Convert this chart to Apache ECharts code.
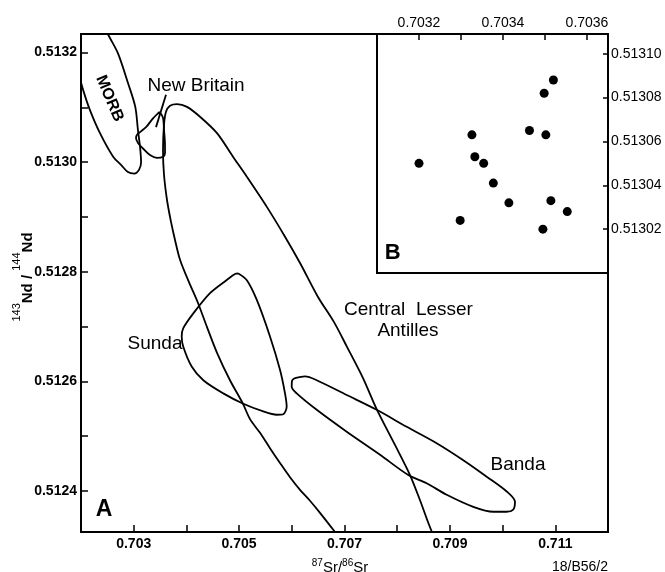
<!DOCTYPE html>
<html><head><meta charset="utf-8">
<script src="https://cdn.jsdelivr.net/npm/echarts@6/dist/echarts.min.js"></script>
<style>html,body{margin:0;padding:0;background:#fff}#c{width:665px;height:572px}</style>
</head><body><div id="c"></div>
<script>
// ---- Data (87Sr/86Sr, 143Nd/144Nd) ----
const morbOutline = [[0.7024,0.51326],[0.70251,0.513234],[0.7027,0.513199],[0.70289,0.513145],[0.70303,0.513101],[0.70308,0.513059],[0.70312,0.513028],[0.70314,0.513],[0.7031,0.512986],[0.70301,0.512979],[0.70289,0.512982],[0.70276,0.512995],[0.70261,0.51301],[0.70236,0.513053],[0.70217,0.513095],[0.70204,0.513132],[0.70194,0.513168],[0.70186,0.5132]];
const newBritainOutline = [[0.70349,0.513092],[0.703556,0.513081],[0.703575,0.513059],[0.703594,0.513031],[0.703594,0.513017],[0.703556,0.51301],[0.703442,0.513008],[0.703309,0.513013],[0.703176,0.513025],[0.703082,0.513035],[0.703044,0.513044],[0.703063,0.51305],[0.70312,0.513055],[0.703243,0.513065],[0.703366,0.51308],[0.70349,0.513092]];
const newBritainLeader = [[0.703613,0.513123],[0.703423,0.513064]];
const lesserAntillesOutline = [[0.70701,0.512301],[0.70682,0.512325],[0.706535,0.51236],[0.706345,0.512382],[0.706156,0.512402],[0.705966,0.512425],[0.705776,0.512451],[0.705586,0.512478],[0.705397,0.512506],[0.705207,0.512531],[0.705074,0.512559],[0.704827,0.512602],[0.704581,0.512652],[0.704391,0.512699],[0.70422,0.512743],[0.704049,0.512781],[0.703879,0.512822],[0.703784,0.512858],[0.703708,0.512891],[0.703632,0.512931],[0.703575,0.512977],[0.703556,0.513022],[0.703575,0.513068],[0.703613,0.513092],[0.703689,0.513103],[0.703822,0.513106],[0.704011,0.513101],[0.704258,0.513083],[0.704581,0.513053],[0.704884,0.51301],[0.70515,0.512973],[0.705529,0.512918],[0.705871,0.512864],[0.706156,0.512816],[0.706497,0.512754],[0.706801,0.512708],[0.707047,0.512663],[0.707351,0.512606],[0.707617,0.512548],[0.707958,0.512484],[0.708243,0.512429],[0.708433,0.512383],[0.70866,0.512325],[0.708812,0.512301]];
const sundaOutline = [[0.704985,0.512797],[0.705144,0.512785],[0.705334,0.512749],[0.705586,0.512682],[0.705776,0.512621],[0.705871,0.512578],[0.705903,0.512554],[0.705839,0.51254],[0.705713,0.512539],[0.705459,0.512545],[0.70508,0.512559],[0.7047,0.512578],[0.704321,0.512602],[0.7041,0.512627],[0.703941,0.512663],[0.703911,0.512682],[0.703941,0.512697],[0.704131,0.512724],[0.704448,0.512761],[0.704765,0.512785],[0.704922,0.512796],[0.704985,0.512797]];
const bandaOutline = [[0.706061,0.512606],[0.70625,0.512609],[0.706473,0.512602],[0.707042,0.512575],[0.707611,0.512548],[0.70818,0.512517],[0.708749,0.512487],[0.709254,0.512456],[0.709698,0.512426],[0.710078,0.512399],[0.710235,0.51238],[0.710203,0.512366],[0.710078,0.512362],[0.709824,0.512362],[0.709444,0.512371],[0.708939,0.512393],[0.70856,0.512414],[0.708211,0.512429],[0.707674,0.512466],[0.707042,0.512508],[0.706473,0.512548],[0.706093,0.512578],[0.705998,0.51259],[0.706004,0.512601],[0.706061,0.512606]];
const newBritainSamples = [[0.7032,0.51305],[0.703298,0.513024],[0.703326,0.513063],[0.703333,0.513053],[0.703354,0.51305],[0.703377,0.513041],[0.703414,0.513032],[0.703463,0.513065],[0.703498,0.513082],[0.70352,0.513088],[0.703502,0.513063],[0.703514,0.513033],[0.703553,0.513028],[0.703495,0.51302]];

const mainXTicks = [0.703,0.704,0.705,0.706,0.707,0.708,0.709,0.710,0.711];
const mainXLabels = [0.703,0.705,0.707,0.709,0.711];
const mainYTicks = [0.5124,0.5125,0.5126,0.5127,0.5128,0.5129,0.5130,0.5131,0.5132];
const mainYLabels = [0.5124,0.5126,0.5128,0.5130,0.5132];
const insetXTicks = [0.7032,0.7033,0.7034,0.7035,0.7036];
const insetXLabels = [0.7032,0.7034,0.7036];
const insetYTicks = [0.51302,0.51304,0.51306,0.51308,0.51310];

// ---- Chart ----
const FONT = "'Liberation Sans', Arial, Helvetica, sans-serif";
const chart = echarts.init(document.getElementById('c'), null, {renderer: 'canvas'});
const lineStyle = {color: '#000', width: 1.8};
function outline(name, data, smooth) {
  return {type: 'line', name: name, data: data, xAxisIndex: 0, yAxisIndex: 0,
    showSymbol: false, symbol: 'none', smooth: smooth, lineStyle: lineStyle,
    clip: true, silent: true, z: 3};
}
function txt(x, y, text, size, weight, extra) {
  return Object.assign({type: 'text', x: x, y: y, z: 100, silent: true,
    style: {text: text, x: 0, y: 0, fill: '#000', font: (weight || 'normal') + ' ' + size + 'px ' + FONT,
      textAlign: 'center', textVerticalAlign: 'middle', align: 'center', verticalAlign: 'middle'}}, extra || {});
}
const axisLineStyle = {color: '#000', width: 2};
const tickStyle = {color: '#000', width: 1.5};
const labelBase = {color: '#000', fontSize: 14, fontFamily: FONT};

const option = {
  animation: false,
  backgroundColor: '#fff',
  grid: [
    {left: 81, top: 34, width: 527, height: 498, show: true, borderColor: '#000', borderWidth: 2},
    {left: 377, top: 34, width: 231, height: 239, show: true, borderColor: '#000', borderWidth: 2, backgroundColor: '#fff'}
  ],
  xAxis: [
    {gridIndex: 0, type: 'value', min: 0.702, max: 0.712, position: 'bottom',
      axisLine: {show: true, onZero: false, lineStyle: axisLineStyle},
      axisTick: {show: true, inside: true, length: 7, customValues: mainXTicks, lineStyle: tickStyle},
      axisLabel: Object.assign({customValues: mainXLabels, formatter: v => v.toFixed(3), margin: 5, fontWeight: 'bold'}, labelBase),
      splitLine: {show: false}},
    {gridIndex: 1, type: 'value', min: 0.7031, max: 0.70365, position: 'top',
      axisLine: {show: true, onZero: false, lineStyle: axisLineStyle},
      axisTick: {show: true, inside: true, length: 6, customValues: insetXTicks, lineStyle: tickStyle},
      axisLabel: Object.assign({customValues: insetXLabels, formatter: v => v.toFixed(4), margin: 4}, labelBase),
      splitLine: {show: false}}
  ],
  yAxis: [
    {gridIndex: 0, type: 'value', min: 0.512325, max: 0.513234, position: 'left',
      axisLine: {show: true, onZero: false, lineStyle: axisLineStyle},
      axisTick: {show: true, inside: true, length: 7, customValues: mainYTicks, lineStyle: tickStyle},
      axisLabel: Object.assign({customValues: mainYLabels, formatter: v => v.toFixed(4), margin: 4, fontWeight: 'bold'}, labelBase),
      splitLine: {show: false}},
    {gridIndex: 1, type: 'value', min: 0.51300, max: 0.513109, position: 'right',
      axisLine: {show: true, onZero: false, lineStyle: axisLineStyle},
      axisTick: {show: true, inside: true, length: 5, customValues: insetYTicks, lineStyle: tickStyle},
      axisLabel: Object.assign({customValues: insetYTicks, formatter: v => v.toFixed(5), margin: 3}, labelBase),
      splitLine: {show: false}}
  ],
  series: [
    outline('MORB', morbOutline, 0.3),
    outline('New Britain', newBritainOutline, 0.3),
    outline('leader', newBritainLeader, false),
    outline('Central Lesser Antilles', lesserAntillesOutline, 0.3),
    outline('Sunda', sundaOutline, 0.3),
    outline('Banda', bandaOutline, 0.3),
    {type: 'scatter', name: 'New Britain samples', xAxisIndex: 1, yAxisIndex: 1, data: newBritainSamples,
      symbol: 'circle', symbolSize: 9, itemStyle: {color: '#000', opacity: 1}, silent: true, z: 4}
  ],
  graphic: [
    txt(196, 85.5, 'New Britain', 19),
    txt(155, 343.5, 'Sunda', 19),
    txt(408.5, 310, 'Central  Lesser', 19),
    txt(408, 331, 'Antilles', 19),
    txt(518, 465, 'Banda', 19),
    txt(109.5, 98.5, 'MORB', 16, 'bold', {rotation: -1.17}),
    txt(104, 510, 'A', 23, 'bold'),
    txt(392.7, 253, 'B', 22, 'bold'),
    {type: 'text', x: 608, y: 567, z: 100, silent: true,
      style: {text: '18/B56/2', x: 0, y: 0, fill: '#000', font: '14px ' + FONT,
        textAlign: 'right', textVerticalAlign: 'middle', align: 'right', verticalAlign: 'middle'}},
    {type: 'text', x: 340, y: 558, z: 100, silent: true,
      style: {text: '{s|87}{m|Sr/}{s|86}{m|Sr}', x: 0, y: 0, fill: '#000',
        textAlign: 'center', textVerticalAlign: 'top', align: 'center', verticalAlign: 'top',
        rich: {s: {fontSize: 10, fontFamily: FONT, verticalAlign: 'top', fill: '#000'},
               m: {fontSize: 15, fontFamily: FONT, lineHeight: 17, verticalAlign: 'bottom', fill: '#000'}}}},
    {type: 'text', x: 23, y: 277, rotation: Math.PI / 2, z: 100, silent: true,
      style: {text: '{s|143}{m|Nd / }{s|144}{m|Nd}', x: 0, y: 0, fill: '#000',
        textAlign: 'center', textVerticalAlign: 'middle', align: 'center', verticalAlign: 'middle',
        rich: {s: {fontSize: 11, fontFamily: FONT, verticalAlign: 'top', fill: '#000'},
               m: {fontSize: 15, fontFamily: FONT, fontWeight: 'bold', lineHeight: 24, verticalAlign: 'bottom', fill: '#000'}}}}
  ]
};
chart.setOption(option);
</script></body></html>
